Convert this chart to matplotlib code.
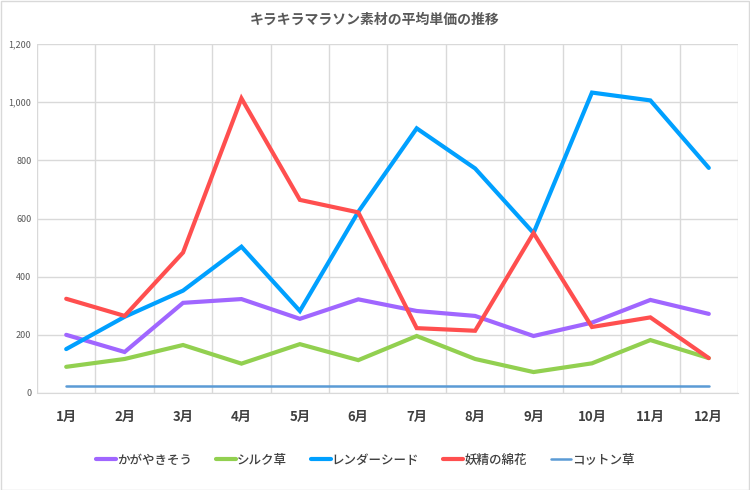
import matplotlib
matplotlib.use("Agg")
import matplotlib.pyplot as plt
from matplotlib.patches import Rectangle

plt.rcParams['font.family'] = ['Noto Sans CJK JP', 'DejaVu Sans']

months = ["1月", "2月", "3月", "4月", "5月", "6月", "7月", "8月", "9月", "10月", "11月", "12月"]
kagayaki = [200, 141, 310, 323, 255, 322, 282, 265, 196, 242, 320, 272]
silk = [90, 117, 165, 101, 168, 113, 196, 117, 72, 102, 182, 120]
render = [151, 262, 352, 503, 282, 623, 910, 772, 550, 1033, 1006, 774]
yousei = [324, 265, 483, 1013, 664, 621, 223, 214, 550, 227, 260, 120]
cotton = [24] * 12

series = [
    ("かがやきそう", kagayaki, "#A066FF", 3.0),
    ("シルク草", silk, "#92D050", 3.0),
    ("レンダーシード", render, "#00A0FF", 3.0),
    ("妖精の綿花", yousei, "#FF4F4F", 3.0),
    ("コットン草", cotton, "#5B9BD5", 1.8),
]

fig = plt.figure(figsize=(7.5, 4.9), dpi=100)
ax = fig.add_axes([37 / 750, 1 - 393 / 490, (738 - 37) / 750, (393 - 44) / 490])

x = list(range(len(months)))
for name, vals, color, lw in series:
    ax.plot(x, vals, color=color, lw=lw, label=name, solid_capstyle="round",
            solid_joinstyle="miter")

ax.set_xlim(-0.5, len(months) - 0.5)
ax.set_ylim(0, 1200)
ax.set_yticks(range(0, 1201, 200))
ax.set_yticklabels([f"{v:,}" for v in range(0, 1201, 200)], fontsize=6.5, color="#595959")
ax.set_xticks(x)
ax.set_xticklabels(months, fontsize=9.5, fontweight="bold", color="#404040")
ax.set_xticks([i - 0.5 for i in range(len(months) + 1)], minor=True)
ax.tick_params(axis="both", which="both", length=0)
ax.tick_params(axis="x", pad=12)
ax.tick_params(axis="y", pad=4)
ax.grid(True, axis="y", color="#D9D9D9", lw=1.0)
ax.grid(True, axis="x", which="minor", color="#D9D9D9", lw=1.0)
ax.set_axisbelow(True)
for s in ax.spines.values():
    s.set_visible(False)
ax.spines["bottom"].set_visible(True)
ax.spines["bottom"].set_color("#D9D9D9")

fig.text(0.5, 1 - 20 / 490, "キラキラマラソン素材の平均単価の推移", ha="center", va="center",
         fontsize=10, fontweight="bold", color="#595959")

fig.legend(loc="center", bbox_to_anchor=(0.5 - 10 / 750, 1 - 460 / 490), ncol=5, frameon=False,
           handlelength=1.6, handletextpad=0.1, columnspacing=1.9,
           labelcolor="#404040", prop={"weight": "medium", "size": 9})

fig.add_artist(Rectangle((0.001, 0.001), 0.997, 0.997, transform=fig.transFigure,
                         fill=False, edgecolor="#D9D9D9", lw=1.0))

fig.savefig("out.png", dpi=100)
